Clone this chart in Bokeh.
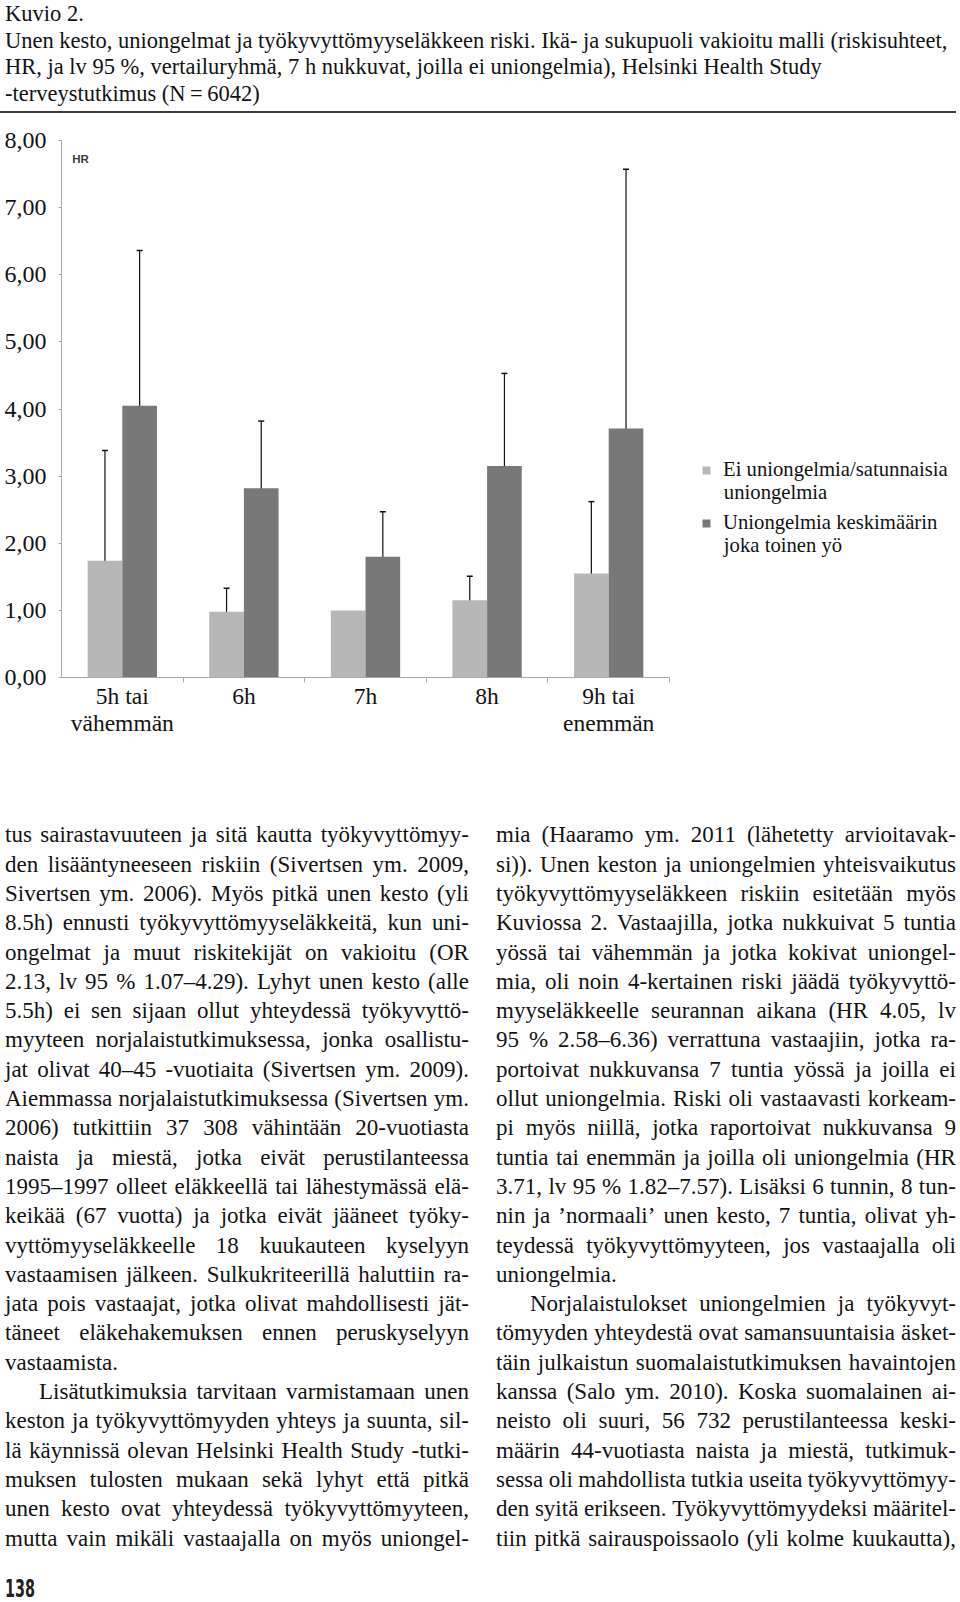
import math
from bokeh.plotting import figure
from bokeh.models import (Range1d, FixedTicker, Whisker, TeeHead, ColumnDataSource,
                          Legend, LegendItem, Label, Div)
from bokeh.layouts import column
from bokeh.embed import file_html
from bokeh.resources import INLINE

# ---------------- data ----------------
categories = ["5h tai\nvähemmän", "6h", "7h", "8h", "9h tai\nenemmän"]
series_first_lines = ["Ei uniongelmia/satunnaisia", "Uniongelmia keskimäärin"]
series_second_lines = ["uniongelmia", "joka toinen yö"]
light_hr = [1.74, 0.98, 1.00, 1.15, 1.55]
light_lo = [0.88, 0.70, float("nan"), 0.86, 0.90]
light_hi = [3.38, 1.33, float("nan"), 1.51, 2.62]
dark_hr = [4.05, 2.82, 1.80, 3.15, 3.71]
dark_lo = [2.58, 2.06, 1.30, 2.17, 1.82]
dark_hi = [6.36, 3.82, 2.47, 4.53, 7.57]
y_ticks = [0, 1, 2, 3, 4, 5, 6, 7, 8]
y_tick_labels = ["0,00", "1,00", "2,00", "3,00", "4,00", "5,00", "6,00", "7,00", "8,00"]

title_lines = [
    "Kuvio 2.",
    "Unen kesto, uniongelmat ja työkyvyttömyyseläkkeen riski. Ikä- ja sukupuoli vakioitu malli (riskisuhteet,",
    "HR, ja lv 95 %, vertailuryhmä, 7 h nukkuvat, joilla ei uniongelmia), Helsinki Health Study",
    "-terveystutkimus (N\u2009=\u20096042)",
]

left_col = [
    ("j", "tus sairastavuuteen ja sitä kautta työkyvyttömyy-"),
    ("j", "den lisääntyneeseen riskiin (Sivertsen ym. 2009,"),
    ("j", "Sivertsen ym. 2006). Myös pitkä unen kesto (yli"),
    ("j", "8.5h) ennusti työkyvyttömyyseläkkeitä, kun uni-"),
    ("j", "ongelmat ja muut riskitekijät on vakioitu (OR"),
    ("j", "2.13, lv 95 % 1.07–4.29). Lyhyt unen kesto (alle"),
    ("j", "5.5h) ei sen sijaan ollut yhteydessä työkyvyttö-"),
    ("j", "myyteen norjalaistutkimuksessa, jonka osallistu-"),
    ("j", "jat olivat 40–45 -vuotiaita (Sivertsen ym. 2009)."),
    ("j", "Aiemmassa norjalaistutkimuksessa (Sivertsen ym."),
    ("j", "2006) tutkittiin 37 308 vähintään 20-vuotiasta"),
    ("j", "naista ja miestä, jotka eivät perustilanteessa"),
    ("j", "1995–1997 olleet eläkkeellä tai lähestymässä elä-"),
    ("j", "keikää (67 vuotta) ja jotka eivät jääneet työky-"),
    ("j", "vyttömyyseläkkeelle 18 kuukauteen kyselyyn"),
    ("j", "vastaamisen jälkeen. Sulkukriteerillä haluttiin ra-"),
    ("j", "jata pois vastaajat, jotka olivat mahdollisesti jät-"),
    ("j", "täneet eläkehakemuksen ennen peruskyselyyn"),
    ("l", "vastaamista."),
    ("i", "Lisätutkimuksia tarvitaan varmistamaan unen"),
    ("j", "keston ja työkyvyttömyyden yhteys ja suunta, sil-"),
    ("j", "lä käynnissä olevan Helsinki Health Study -tutki-"),
    ("j", "muksen tulosten mukaan sekä lyhyt että pitkä"),
    ("j", "unen kesto ovat yhteydessä työkyvyttömyyteen,"),
    ("j", "mutta vain mikäli vastaajalla on myös uniongel-"),
]
right_col = [
    ("j", "mia (Haaramo ym. 2011 (lähetetty arvioitavak-"),
    ("j", "si)). Unen keston ja uniongelmien yhteisvaikutus"),
    ("j", "työkyvyttömyyseläkkeen riskiin esitetään myös"),
    ("j", "Kuviossa 2. Vastaajilla, jotka nukkuivat 5 tuntia"),
    ("j", "yössä tai vähemmän ja jotka kokivat uniongel-"),
    ("j", "mia, oli noin 4-kertainen riski jäädä työkyvyttö-"),
    ("j", "myyseläkkeelle seurannan aikana (HR 4.05, lv"),
    ("j", "95 % 2.58–6.36) verrattuna vastaajiin, jotka ra-"),
    ("j", "portoivat nukkuvansa 7 tuntia yössä ja joilla ei"),
    ("j", "ollut uniongelmia. Riski oli vastaavasti korkeam-"),
    ("j", "pi myös niillä, jotka raportoivat nukkuvansa 9"),
    ("j", "tuntia tai enemmän ja joilla oli uniongelmia (HR"),
    ("j", "3.71, lv 95 % 1.82–7.57). Lisäksi 6 tunnin, 8 tun-"),
    ("j", "nin ja ’normaali’ unen kesto, 7 tuntia, olivat yh-"),
    ("j", "teydessä työkyvyttömyyteen, jos vastaajalla oli"),
    ("l", "uniongelmia."),
    ("i", "Norjalaistulokset uniongelmien ja työkyvyt-"),
    ("j", "tömyyden yhteydestä ovat samansuuntaisia äsket-"),
    ("j", "täin julkaistun suomalaistutkimuksen havaintojen"),
    ("j", "kanssa (Salo ym. 2010). Koska suomalainen ai-"),
    ("j", "neisto oli suuri, 56 732 perustilanteessa keski-"),
    ("j", "määrin 44-vuotiasta naista ja miestä, tutkimuk-"),
    ("j", "sessa oli mahdollista tutkia useita työkyvyttömyy-"),
    ("j", "den syitä erikseen. Työkyvyttömyydeksi määritel-"),
    ("j", "tiin pitkä sairauspoissaolo (yli kolme kuukautta),"),
]
page_number = "138"

# ---------------- styles ----------------
SERIF = "Liberation Serif"
LIGHT = "#b7b7b7"
DARK = "#787878"
TEXT = "#131313"
AXIS = "#a8a8a8"
W = 956
DW = 958
FRAME_LEFT = 61
CAT_PX = 121.6          # pixel width of one category
N_CAT = len(categories)

# ---------------- title ----------------
title_html = (
    f'<div style="position:relative;width:{DW}px;height:120px;font-family:\'{SERIF}\';color:{TEXT};">'
    f'<div style="position:absolute;left:5px;top:1px;font-size:22.5px;line-height:26.6px;white-space:nowrap;">'
    + "<br>".join(title_lines) +
    '</div>'
    '<div style="position:absolute;left:0px;top:111px;width:956px;height:2px;background:#3c3c3c;"></div>'
    '</div>'
)
title_div = Div(text=title_html, width=DW, height=120, margin=0)

# ---------------- chart ----------------
frame_w = W - FRAME_LEFT
p = figure(width=W, height=680, x_range=Range1d(0, frame_w / CAT_PX), y_range=Range1d(0, 8),
           output_backend="svg", toolbar_location=None,
           min_border_left=FRAME_LEFT, min_border_right=0, min_border_top=20,
           min_border_bottom=123)
p.outline_line_color = None
p.xgrid.grid_line_color = None
p.ygrid.grid_line_color = None
p.background_fill_color = "white"
p.border_fill_color = "white"

half = 0.1425
bw = 0.285
x_light = [i + 0.5 - half for i in range(N_CAT)]
x_dark = [i + 0.5 + half for i in range(N_CAT)]

r_light = p.vbar(x=x_light, top=light_hr, width=bw, fill_color=LIGHT, line_color=None)
r_dark = p.vbar(x=x_dark, top=dark_hr, width=bw, fill_color=DARK, line_color=None)

lw_idx = [i for i in range(N_CAT) if not math.isnan(light_lo[i])]
src_l = ColumnDataSource(dict(base=[x_light[i] for i in lw_idx],
                              lower=[light_lo[i] for i in lw_idx],
                              upper=[light_hi[i] for i in lw_idx]))
src_d = ColumnDataSource(dict(base=x_dark, lower=dark_lo, upper=dark_hi))
for src in (src_l, src_d):
    p.add_layout(Whisker(source=src, base="base", lower="lower", upper="upper",
                         line_color="#111111", line_width=1.2,
                         upper_head=TeeHead(size=6, line_color="#111111", line_width=1.5),
                         lower_head=TeeHead(size=6, line_color="#111111", line_width=1.5)))

# x axis (drawn only over the categories)
xa = p.xaxis[0]
xa.bounds = (0, N_CAT)
xa.ticker = FixedTicker(ticks=[i + 0.5 for i in range(N_CAT)], minor_ticks=list(range(1, N_CAT + 1)))
xa.major_label_overrides = {i + 0.5: categories[i] for i in range(N_CAT)}
xa.axis_line_color = AXIS
xa.major_tick_line_color = None
xa.major_tick_out = 0
xa.major_tick_in = 0
xa.minor_tick_line_color = AXIS
xa.minor_tick_out = 5
xa.minor_tick_in = 0
xa.major_label_standoff = 0
xa.major_label_text_font = SERIF
xa.major_label_text_font_size = "23.5px"
xa.major_label_text_color = TEXT
xa.major_label_text_line_height = 1.05

# y axis
ya = p.yaxis[0]
ya.ticker = FixedTicker(ticks=y_ticks)
ya.major_label_overrides = {t: lab for t, lab in zip(y_ticks, y_tick_labels)}
ya.axis_line_color = AXIS
ya.major_tick_line_color = AXIS
ya.major_tick_out = 3
ya.major_tick_in = 0
ya.minor_tick_line_color = None
ya.major_label_standoff = 12
ya.major_label_text_font = SERIF
ya.major_label_text_font_size = "24px"
ya.major_label_text_color = TEXT

p.add_layout(Label(x=0.088, y=7.72, text="HR", text_font="Liberation Sans",
                   text_font_size="11.5px", text_font_style="bold", text_color="#3a3a3a",
                   text_baseline="middle", text_align="left"))

legend = Legend(items=[LegendItem(label=series_first_lines[0], renderers=[r_light]),
                       LegendItem(label=series_first_lines[1], renderers=[r_dark])],
                location=(640, 143))
legend.glyph_width = 10
legend.glyph_height = 10
legend.label_standoff = 12
legend.label_text_font = SERIF
legend.label_text_font_size = "20.7px"
legend.label_text_color = TEXT
legend.label_height = 21
legend.spacing = 30
legend.padding = 0
legend.margin = 0
legend.border_line_color = None
legend.background_fill_alpha = 0
p.add_layout(legend, "center")

# second lines of the legend labels
sec_x = 5.447
sec_y = [2.76, 1.98]
for txt, yy in zip(series_second_lines, sec_y):
    p.add_layout(Label(x=sec_x, y=yy, text=txt, text_font=SERIF, text_font_size="20.7px",
                       text_color=TEXT, text_baseline="middle", text_align="left"))

# ---------------- body text ----------------
LH = 29.3


def line_html(kind, txt):
    base = f"height:{LH}px;line-height:{LH}px;white-space:nowrap;"
    if kind == "l":
        return f'<div style="{base}">{txt}</div>'
    pad = "padding-left:34px;" if kind == "i" else ""
    words = "".join(f"<span>{w}</span>" for w in txt.split(" "))
    return f'<div style="{base}{pad}display:flex;justify-content:space-between;">{words}</div>'


def col_html(lines, left, width):
    return (f'<div style="position:absolute;left:{left}px;top:20.4px;width:{width}px;">'
            + "".join(line_html(k, t) for k, t in lines) + '</div>')


body_html = (
    f'<div style="position:relative;width:{DW}px;height:802px;font-family:\'{SERIF}\';'
    f'font-size:23px;color:{TEXT};">'
    + col_html(left_col, 5, 464)
    + col_html(right_col, 496, 460)
    + f'<div style="position:absolute;left:5px;top:776px;font-family:\'DejaVu Sans\';'
      f'font-weight:bold;font-size:24px;line-height:26px;color:#222;transform:scaleX(0.6);'
      f'transform-origin:left center;">{page_number}</div>'
    + '</div>'
)
body_div = Div(text=body_html, width=DW, height=802, margin=0)

layout = column(title_div, p, body_div, spacing=0)
open("out.html", "w").write(file_html(layout, INLINE))
